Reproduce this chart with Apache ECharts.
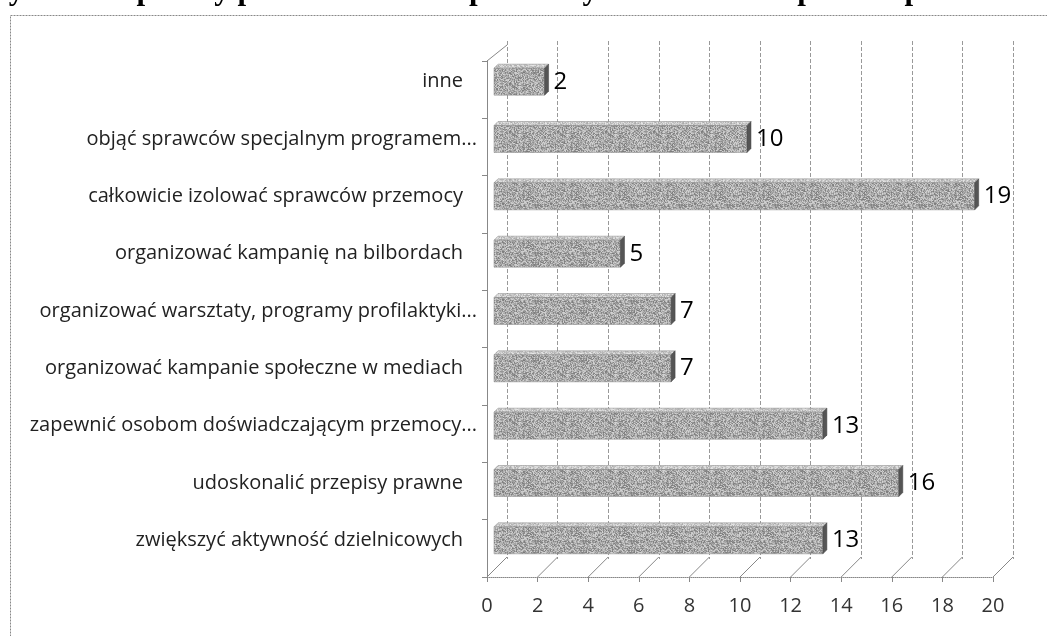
<!DOCTYPE html>
<html>
<head>
<meta charset="utf-8">
<script src="https://cdn.jsdelivr.net/npm/echarts@6/dist/echarts.min.js"></script>
<style>
  html, body { margin: 0; padding: 0; background: #fff; }
  #chart { width: 1047px; height: 636px; }
</style>
</head>
<body>
<div id="chart"></div>
<script>
// kategorie (od góry)
const categories = [
  'inne',
  'objąć sprawców specjalnym programem...',
  'całkowicie izolować sprawców przemocy',
  'organizować kampanię na bilbordach',
  'organizować warsztaty, programy profilaktyki...',
  'organizować kampanie społeczne w mediach',
  'zapewnić osobom doświadczającym przemocy...',
  'udoskonalić przepisy prawne',
  'zwiększyć aktywność dzielnicowych'
];
const values = [2, 10, 19, 5, 7, 7, 13, 16, 13];
const xTicks = [0, 2, 4, 6, 8, 10, 12, 14, 16, 18, 20];
const titleText = 'Wykres 7. Sposoby przeciwdziałania przemocy w rodzinie w opinii respondentek';

// głębia 3D
const DX = 20, DY = -18;

// tekstura słupka (szum deterministyczny)
function makePattern(base, amp) {
  const c = document.createElement('canvas');
  c.width = 48; c.height = 48;
  const ctx = c.getContext('2d');
  for (let y = 0; y < 48; y++) {
    for (let x = 0; x < 48; x++) {
      const s = Math.sin(x * 12.9898 + y * 78.233) * 43758.5453;
      const n = s - Math.floor(s) - 0.5;
      const g = Math.round(Math.max(0, Math.min(255, base + n * amp)));
      ctx.fillStyle = 'rgb(' + g + ',' + g + ',' + g + ')';
      ctx.fillRect(x, y, 1, 1);
    }
  }
  return { image: c, repeat: 'repeat' };
}
const faceFill = makePattern(168, 90);
const topFill = makePattern(200, 60);

const chart = echarts.init(document.getElementById('chart'));

const option = {
  backgroundColor: '#fff',
  animation: false,
  textStyle: { fontFamily: '"Open Sans", sans-serif' },
  graphic: [
    {
      type: 'rect',
      shape: { x: 10.5, y: 15.5, width: 1100, height: 700 },
      style: { fill: 'none', stroke: '#888', lineWidth: 1, lineDash: [2, 1] },
      z: 0
    },
    {
      type: 'text',
      x: -21,
      y: 6,
      style: {
        text: titleText,
        font: 'bold 31px "Liberation Serif", serif',
        fill: '#000',
        textVerticalAlign: 'bottom'
      },
      z: 10
    }
  ],
  grid: [
    { left: 487, right: 54, top: 61, bottom: 59 },
    { left: 487 + DX, right: 54 - DX, top: 61 + DY - 2, bottom: 59 - DY }
  ],
  xAxis: [
    {
      gridIndex: 0,
      type: 'value',
      min: 0,
      max: 20,
      interval: 2,
      axisLine: { show: true, lineStyle: { color: '#888', type: 'dotted', width: 1 } },
      axisTick: { show: true, length: 5, lineStyle: { color: '#888' } },
      axisLabel: { color: '#333', fontSize: 20, margin: 19 },
      splitLine: { show: false }
    },
    {
      gridIndex: 1,
      type: 'value',
      min: 0,
      max: 20,
      interval: 2,
      axisLine: { show: false },
      axisTick: { show: false },
      axisLabel: { show: false },
      splitLine: { show: true, lineStyle: { color: '#999', type: 'dashed', width: 1 } }
    }
  ],
  yAxis: [
    {
      gridIndex: 0,
      type: 'category',
      inverse: true,
      data: categories,
      axisLine: { show: true, lineStyle: { color: '#888', width: 1 } },
      axisTick: { show: true, length: 5, lineStyle: { color: '#888' } },
      axisLabel: {
        color: '#222',
        fontSize: 20,
        margin: 10,
        padding: [0, 0, 16, 0],
        formatter: v => v.endsWith('...') ? v : '{p|' + v + '}',
        rich: { p: { fontSize: 20, color: '#222', padding: [0, 14, 0, 0] } }
      }
    },
    {
      gridIndex: 1,
      type: 'category',
      inverse: true,
      data: categories,
      show: false
    }
  ],
  series: [
    {
      // podłoga i ściana boczna
      type: 'custom',
      xAxisIndex: 0,
      yAxisIndex: 0,
      data: xTicks.map(t => [t]),
      z: 1,
      renderItem: function (params, api) {
        const cs = params.coordSys;
        const x = api.coord([api.value(0), 0])[0];
        const yb = cs.y + cs.height;
        const children = [{
          type: 'line',
          shape: { x1: x, y1: yb, x2: x + DX, y2: yb + DY - 2 },
          style: { stroke: '#888', lineWidth: 1 }
        }];
        if (params.dataIndex === 0) {
          children.push({
            type: 'line',
            shape: { x1: cs.x, y1: cs.y, x2: cs.x + DX, y2: cs.y + DY + 2 },
            style: { stroke: '#888', lineWidth: 1 }
          });
        }
        return { type: 'group', children: children };
      }
    },
    {
      // słupki 3D
      type: 'custom',
      xAxisIndex: 0,
      yAxisIndex: 0,
      data: values.map((v, i) => [v, i]),
      z: 5,
      renderItem: function (params, api) {
        const v = api.value(0);
        const i = api.value(1);
        const p0 = api.coord([0, i]);
        const p1 = api.coord([v, i]);
        const h = 27, d = 4, ox = 7, oy = -8;
        const left = p0[0] + ox;
        const right = p1[0] + ox;
        const top = p0[1] + oy - h / 2;
        const bottom = top + h;
        return {
          type: 'group',
          children: [
            {
              type: 'polygon',
              shape: { points: [[left, top], [left + d, top - d], [right + d, top - d], [right, top]] },
              style: { fill: topFill, stroke: '#888', lineWidth: 0.5 }
            },
            {
              type: 'rect',
              shape: { x: left, y: top, width: right - left, height: h },
              style: { fill: faceFill, stroke: '#888', lineWidth: 0.5 }
            },
            {
              type: 'polygon',
              shape: { points: [[right, top], [right + d, top - d], [right + d, bottom - d], [right, bottom]] },
              style: { fill: '#555', stroke: '#444', lineWidth: 0.5 }
            },
            {
              type: 'text',
              x: right + d + 5,
              y: top + h / 2,
              style: {
                text: String(v),
                font: '24px "Open Sans", sans-serif',
                fill: '#000',
                textVerticalAlign: 'middle'
              }
            }
          ]
        };
      }
    }
  ]
};

chart.setOption(option);
window.addEventListener('resize', () => {
  chart.resize();
});
</script>
</body>
</html>
